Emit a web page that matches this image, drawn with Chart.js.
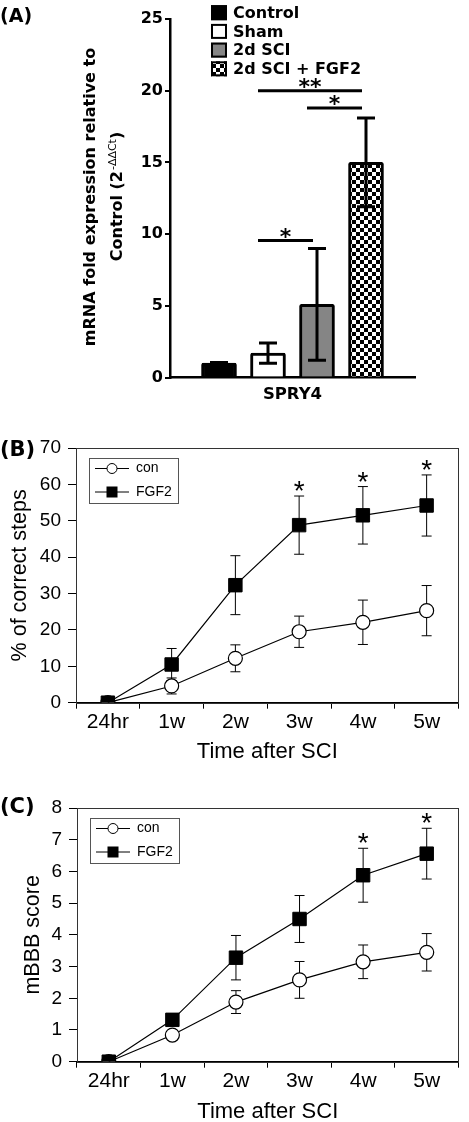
<!DOCTYPE html>
<html>
<head>
<meta charset="utf-8">
<title>SPRY4 expression and locomotor recovery</title>
<script src="https://cdn.jsdelivr.net/npm/chart.js@4.4.1/dist/chart.umd.min.js"></script>
<style>
  body { margin: 0; background: #fff; }
  .panel { position: absolute; left: 0; width: 469px; }
  #panelA { top: 0; height: 410px; }
  #panelB { top: 405px; height: 360px; }
  #panelC { top: 765px; height: 360px; }
</style>
</head>
<body>
<div class="panel" id="panelA"><canvas id="chartA"></canvas></div>
<div class="panel" id="panelB"><canvas id="chartB"></canvas></div>
<div class="panel" id="panelC"><canvas id="chartC"></canvas></div>

<script>
// ---- (A) SPRY4 qPCR ----
const barGroups = ['Control', 'Sham', '2d SCI', '2d SCI + FGF2'];
const spry4Mean = [1.0, 1.7, 5.1, 15.0];
const spry4Err = [0.05, 0.7, 3.9, 3.1];
const spry4Ticks = [0, 5, 10, 15, 20, 25];
// significance brackets (group index from / to, height, mark)
const sigFrom = [1, 2, 1];
const sigTo = [3, 3, 2];
const sigHeight = [20.0, 18.8, 9.55];
const sigMark = ['**', '*', '*'];

// ---- (B) % of correct steps ----
const timePoints = ['24hr', '1w', '2w', '3w', '4w', '5w'];
const stepsCon = [0, 4.6, 12.2, 19.5, 22.1, 25.3];
const stepsConErr = [0, 2.2, 3.7, 4.3, 6.1, 6.9];
const stepsFgf2 = [0, 10.5, 32.3, 48.8, 51.5, 54.2];
const stepsFgf2Err = [0, 4.4, 8.1, 8.0, 7.9, 8.4];
const stepsStars = ['', '', '', '*', '*', '*'];

// ---- (C) mBBB score ----
const bbbCon = [0, 0.84, 1.88, 2.58, 3.15, 3.45];
const bbbConErr = [0, 0.05, 0.36, 0.58, 0.53, 0.59];
const bbbFgf2 = [0, 1.32, 3.28, 4.5, 5.88, 6.56];
const bbbFgf2Err = [0, 0.15, 0.7, 0.74, 0.85, 0.8];
const bbbStars = ['', '', '', '', '*', '*'];

Chart.defaults.color = '#000';
Chart.defaults.font.family = '"Liberation Sans", Arial, sans-serif';
Chart.defaults.animation = false;

const BOLD_A = '"DejaVu Sans", sans-serif';

function hasFont(name) {
  const c = document.createElement('canvas').getContext('2d');
  const probe = 'mmmmwwwwlli24hr';
  c.font = '40px monospace';
  const base = c.measureText(probe).width;
  c.font = '40px "' + name + '", monospace';
  return c.measureText(probe).width !== base;
}
// x labels in the original are a tall, narrow face
let xTickFont = { family: '"Liberation Sans", Arial', size: 21 };
if (hasFont('Liberation Sans Narrow')) xTickFont = { family: '"Liberation Sans Narrow"', size: 24 };
else if (hasFont('Arial Narrow')) xTickFont = { family: '"Arial Narrow"', size: 24 };

function makeChecker() {
  const c = document.createElement('canvas');
  c.width = 8; c.height = 8;
  const g = c.getContext('2d');
  g.fillStyle = '#000'; g.fillRect(0, 0, 8, 8);
  g.fillStyle = '#fff'; g.fillRect(0, 0, 4, 4); g.fillRect(4, 4, 4, 4);
  return document.createElement('canvas').getContext('2d').createPattern(c, 'repeat');
}
const checker = makeChecker();
const barFill = ['#000000', '#ffffff', '#858585', checker];

// bars sit at slots 1..4 of a 0..5 axis, like the original
const slotLabels = [''].concat(barGroups, ['']);
const slotMean = [null].concat(spry4Mean, [null]);
const slotFill = ['transparent'].concat(barFill, ['transparent']);

const spryExtras = {
  id: 'spryExtras',
  afterDatasetsDraw(chart) {
    const ctx = chart.ctx;
    const xs = chart.scales.x, ys = chart.scales.y;
    ctx.save();
    ctx.strokeStyle = '#000';
    ctx.lineWidth = 3;
    // error bars
    spry4Mean.forEach((m, i) => {
      const bx = xs.getPixelForValue(i + 1);
      const hi = ys.getPixelForValue(m + spry4Err[i]);
      const lo = ys.getPixelForValue(m - spry4Err[i]);
      ctx.beginPath();
      ctx.moveTo(bx, hi); ctx.lineTo(bx, lo);
      ctx.moveTo(bx - 9, hi); ctx.lineTo(bx + 9, hi);
      ctx.moveTo(bx - 9, lo); ctx.lineTo(bx + 9, lo);
      ctx.stroke();
    });
    // significance brackets
    ctx.fillStyle = '#000';
    ctx.textAlign = 'center';
    ctx.textBaseline = 'alphabetic';
    ctx.font = 'bold 22px ' + BOLD_A;
    sigMark.forEach((mark, k) => {
      const x1 = xs.getPixelForValue(sigFrom[k] + 1) - 10;
      const x2 = xs.getPixelForValue(sigTo[k] + 1) - 4;
      const y = ys.getPixelForValue(sigHeight[k]);
      ctx.beginPath();
      ctx.moveTo(x1, y); ctx.lineTo(x2, y);
      ctx.stroke();
      ctx.fillText(mark, (x1 + x2) / 2, y + 3);
    });
    ctx.restore();
  },
  afterDraw(chart) {
    const ctx = chart.ctx;
    ctx.save();
    ctx.fillStyle = '#000';
    // panel letter
    ctx.font = 'bold 19px ' + BOLD_A;
    ctx.textBaseline = 'middle';
    ctx.textAlign = 'left';
    ctx.fillText('(A)', 0, 17);

    // legend
    ctx.font = 'bold 16px ' + BOLD_A;
    barGroups.forEach((name, i) => {
      const cy = 12.7 + i * 18.7;
      ctx.fillStyle = barFill[i];
      ctx.fillRect(211, cy - 7.5, 16, 15);
      ctx.strokeStyle = '#000';
      ctx.lineWidth = 2;
      ctx.strokeRect(212, cy - 6.5, 14, 13);
      ctx.fillStyle = '#000';
      ctx.fillText(name, 233, cy + 1);
    });

    // y axis title with superscript
    ctx.textAlign = 'center';
    ctx.save();
    ctx.translate(91, 197);
    ctx.rotate(-Math.PI / 2);
    ctx.fillText('mRNA fold expression relative to', 0, 0);
    ctx.restore();

    ctx.save();
    ctx.translate(118, 197);
    ctx.rotate(-Math.PI / 2);
    ctx.textAlign = 'left';
    const partA = 'Control (2', partSup = '-\u0394\u0394Ct', partB = ')';
    const fMain = 'bold 16px ' + BOLD_A, fSup = '11px ' + BOLD_A;
    ctx.font = fMain;
    const wa = ctx.measureText(partA).width, wb = ctx.measureText(partB).width;
    ctx.font = fSup;
    const ws = ctx.measureText(partSup).width;
    let x0 = -(wa + ws + wb) / 2;
    ctx.font = fMain; ctx.fillText(partA, x0, 0);
    ctx.font = fSup; ctx.fillText(partSup, x0 + wa + 1, -5);
    ctx.font = fMain; ctx.fillText(partB, x0 + wa + ws + 1, 0);
    ctx.restore();
    ctx.restore();
  }
};

new Chart(document.getElementById('chartA'), {
  type: 'bar',
  data: {
    labels: slotLabels,
    datasets: [{
      label: 'SPRY4',
      data: slotMean,
      backgroundColor: slotFill,
      borderColor: '#000',
      borderWidth: 3,
      borderRadius: 2,
      barThickness: 35
    }]
  },
  plugins: [spryExtras],
  options: {
    responsive: true,
    maintainAspectRatio: false,
    layout: { padding: { top: 19, right: 54, left: 0, bottom: 0 } },
    plugins: { legend: { display: false }, tooltip: { enabled: false } },
    scales: {
      x: {
        offset: false,
        grid: { display: false },
        border: { color: '#000', width: 2.5 },
        ticks: { display: false },
        title: {
          display: true, text: 'SPRY4',
          font: { family: BOLD_A, weight: 'bold', size: 16.5 },
          padding: { top: 0, bottom: 5 }
        },
        afterFit(scale) { scale.height = 32.5; }
      },
      y: {
        min: 0, max: 25,
        afterBuildTicks(scale) { scale.ticks = spry4Ticks.map(v => ({ value: v })); },
        grid: { drawOnChartArea: false, tickLength: 5, color: '#000', lineWidth: 2 },
        border: { color: '#000', width: 2.5 },
        ticks: { padding: 2, font: { family: BOLD_A, weight: 'bold', size: 16 } },
        afterFit(scale) { scale.width = 170; }
      }
    }
  }
});

// ---- shared drawing for the two time-course panels ----
const timeExtras = {
  id: 'timeExtras',
  beforeDatasetsDraw(chart) {
    const ctx = chart.ctx;
    const ys = chart.scales.y;
    ctx.save();
    ctx.strokeStyle = '#000';
    ctx.lineWidth = 1;
    chart.data.datasets.forEach((ds, di) => {
      const meta = chart.getDatasetMeta(di);
      ds.errors.forEach((e, i) => {
        if (!e) return;
        const px = meta.data[i].x;
        const hi = ys.getPixelForValue(ds.data[i] + e);
        const lo = ys.getPixelForValue(ds.data[i] - e);
        ctx.beginPath();
        ctx.moveTo(px, hi); ctx.lineTo(px, lo);
        ctx.moveTo(px - 5, hi); ctx.lineTo(px + 5, hi);
        ctx.moveTo(px - 5, lo); ctx.lineTo(px + 5, lo);
        ctx.stroke();
      });
    });
    ctx.restore();
  },
  afterDraw(chart, args, opts) {
    const ctx = chart.ctx;
    const a = chart.chartArea;
    const ys = chart.scales.y;
    ctx.save();
    // plot frame
    ctx.strokeStyle = '#333';
    ctx.lineWidth = 1;
    ctx.strokeRect(Math.round(a.left) + 0.5, Math.round(a.top) + 0.5,
      Math.round(a.right - a.left) - 1, Math.round(a.bottom - a.top));

    // significance stars above FGF2 error bars
    const fgf = chart.data.datasets[1];
    const meta = chart.getDatasetMeta(1);
    ctx.fillStyle = '#000';
    ctx.font = '28px "Liberation Sans", Arial';
    ctx.textAlign = 'center';
    ctx.textBaseline = 'alphabetic';
    fgf.stars.forEach((s, i) => {
      if (!s) return;
      const top = ys.getPixelForValue(fgf.data[i] + fgf.errors[i]);
      ctx.fillText(s, meta.data[i].x, top + 4);
    });

    // legend box
    const lx = a.left + 13, ly = a.top + 10;
    ctx.fillStyle = '#fff';
    ctx.fillRect(lx, ly, 89, 45);
    ctx.strokeStyle = '#555';
    ctx.strokeRect(lx + 0.5, ly + 0.5, 89, 45);
    ctx.font = '14px "Liberation Sans", Arial';
    ctx.textAlign = 'left';
    ctx.textBaseline = 'middle';
    chart.data.datasets.forEach((ds, i) => {
      const cy = ly + 10.5 + i * 23.5;
      ctx.strokeStyle = '#000';
      ctx.beginPath();
      ctx.moveTo(lx + 6, cy); ctx.lineTo(lx + 40, cy);
      ctx.stroke();
      if (ds.pointStyle === 'circle') {
        ctx.beginPath();
        ctx.arc(lx + 23, cy, 5, 0, Math.PI * 2);
        ctx.fillStyle = '#fff'; ctx.fill(); ctx.stroke();
      } else {
        ctx.fillStyle = '#000';
        ctx.fillRect(lx + 17.5, cy - 5.5, 11, 11);
      }
      ctx.fillStyle = '#000';
      ctx.fillText(ds.label, lx + 47, cy);
    });

    // panel letter
    ctx.font = 'bold 21px ' + BOLD_A;
    ctx.fillText(opts.letter, 0, opts.letterY);
    ctx.restore();
  }
};

function timeChart(id, con, conErr, fgf, fgfErr, stars, yMax, yStep, yTitle, box) {
  return new Chart(document.getElementById(id), {
    type: 'line',
    data: {
      labels: timePoints,
      datasets: [
        {
          label: 'con', data: con, errors: conErr, stars: [], order: 1,
          borderColor: '#000', borderWidth: 1.2,
          pointStyle: 'circle', pointRadius: 7,
          pointBackgroundColor: '#fff', pointBorderColor: '#000', pointBorderWidth: 1.2
        },
        {
          label: 'FGF2', data: fgf, errors: fgfErr, stars: stars, order: 0,
          borderColor: '#000', borderWidth: 1.2,
          pointStyle: 'rect', pointRadius: 9.5,
          pointBackgroundColor: '#000', pointBorderColor: '#000', pointBorderWidth: 1
        }
      ]
    },
    plugins: [timeExtras],
    options: {
      responsive: true,
      maintainAspectRatio: false,
      layout: { padding: { top: box.top, right: box.right, left: 0, bottom: 0 } },
      plugins: {
        legend: { display: false },
        tooltip: { enabled: false },
        timeExtras: { letter: box.letter, letterY: box.letterY }
      },
      scales: {
        x: {
          offset: true,
          grid: { offset: true, drawOnChartArea: false, tickLength: 6, color: '#000' },
          border: { color: '#000', width: 1 },
          ticks: { padding: 1, font: xTickFont },
          title: {
            display: true, text: 'Time after SCI',
            font: { size: 22 }, padding: { top: 0, bottom: 0 }
          },
          afterFit(scale) { scale.height = box.xHeight; }
        },
        y: {
          min: 0, max: yMax,
          ticks: { stepSize: yStep, padding: 7, font: { size: 19 } },
          grid: { drawOnChartArea: false, tickLength: 8, color: '#000' },
          border: { color: '#000', width: 1 },
          title: {
            display: true, text: yTitle,
            font: { size: 21.5 }, padding: { top: box.titlePad, bottom: 0 }
          },
          afterFit(scale) { scale.width = box.left; }
        }
      }
    }
  });
}

timeChart('chartB', stepsCon, stepsConErr, stepsFgf2, stepsFgf2Err, stepsStars,
  70, 10, '% of correct steps',
  { top: 43, right: 8, left: 76, xHeight: 62.3, titlePad: 7, letter: '(B)', letterY: 46 });

timeChart('chartC', bbbCon, bbbConErr, bbbFgf2, bbbFgf2Err, bbbStars,
  8, 1, 'mBBB score',
  { top: 43, right: 2, left: 77, xHeight: 63.3, titlePad: 20, letter: '(C)', letterY: 43 });
</script>
</body>
</html>
